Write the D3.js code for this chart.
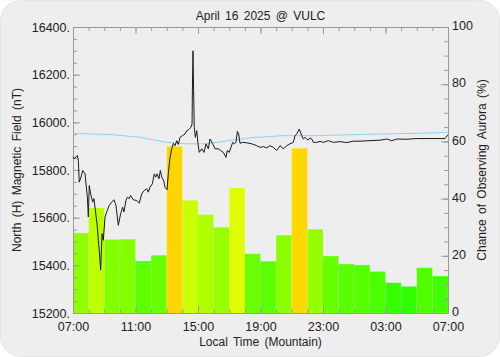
<!DOCTYPE html>
<html>
<head>
<meta charset="utf-8">
<script src="https://cdn.jsdelivr.net/npm/d3@7"></script>
<style>
  html, body { margin: 0; padding: 0; background: #ffffff; }
  svg { display: block; font-family: "Liberation Sans", Arial, sans-serif; }
</style>
</head>
<body>
<svg id="chart" width="500" height="357"></svg>
<script>
// hours since 07:00 local time
const hourTicks = [0, 4, 8, 12, 16, 20, 24];
const hourLabels = ["07:00", "11:00", "15:00", "19:00", "23:00", "03:00", "07:00"];

// hourly chance of observing aurora (%), one bar per hour starting 07:00
const auroraChance = [28.0, 36.7, 25.7, 25.8, 18.2, 20.2, 58.3, 39.4, 34.4, 30.0, 43.7, 20.7,
  18.1, 27.2, 57.6, 29.3, 19.9, 17.1, 16.8, 14.5, 10.6, 9.3, 15.8, 12.9];

// north (H) magnetic field, nT
const magHours = [0.00, 0.06, 0.28, 0.34, 0.40, 0.51, 0.62, 0.77, 0.92, 0.98, 1.04, 1.13, 1.26, 1.34,
  1.47, 1.56, 1.62, 1.68, 1.77, 1.86, 1.94, 2.05, 2.16, 2.32, 2.48, 2.62, 2.75, 2.90, 3.05, 3.18,
  3.26, 3.39, 3.48, 3.60, 3.69, 3.86, 4.08, 4.24, 4.40, 4.56, 4.72, 4.82, 4.93, 5.08, 5.20, 5.29,
  5.38, 5.50, 5.59, 5.68, 5.80, 5.89, 6.02, 6.10, 6.21, 6.32, 6.42, 6.53, 6.64, 6.74, 6.85, 7.00,
  7.17, 7.28, 7.38, 7.55, 7.62, 7.64, 7.68, 7.72, 7.76, 7.83, 7.92, 8.00, 8.08, 8.24, 8.38, 8.51,
  8.66, 8.77, 8.94, 9.09, 9.30, 9.45, 9.62, 9.79, 9.88, 10.00, 10.11, 10.22, 10.32, 10.43, 10.52,
  10.60, 10.69, 10.86, 11.12, 11.44, 11.76, 11.97, 12.18, 12.40, 12.61, 12.82, 13.04, 13.25, 13.46,
  13.68, 13.89, 14.10, 14.21, 14.32, 14.48, 14.64, 14.74, 14.85, 14.96, 15.06, 15.17, 15.28, 15.38,
  15.60, 15.81, 16.02, 16.34, 16.66, 17.09, 17.52, 17.94, 18.37, 19.01, 19.65, 20.08, 20.40, 20.72,
  21.36, 22.00, 22.64, 23.28, 23.81, 24.00];
const magField = [15856, 15847, 15861, 15840, 15749, 15770, 15798, 15784, 15686, 15603, 15735, 15700,
  15665, 15680, 15610, 15561, 15505, 15463, 15380, 15533, 15505, 15603, 15624, 15652, 15665, 15675,
  15652, 15568, 15617, 15644, 15624, 15673, 15686, 15680, 15693, 15675, 15672, 15661, 15700, 15714,
  15721, 15707, 15728, 15742, 15784, 15770, 15784, 15763, 15798, 15770, 15756, 15728, 15717, 15784,
  15853, 15889, 15912, 15902, 15923, 15907, 15937, 15944, 15951, 15965, 15968, 15979, 15993, 16132,
  16300, 16132, 15979, 15937, 15965, 15910, 15874, 15889, 15874, 15910, 15889, 15930, 15910, 15889,
  15889, 15882, 15874, 15853, 15882, 15874, 15895, 15916, 15910, 15916, 15962, 15951, 15912, 15916,
  15914, 15910, 15902, 15895, 15898, 15893, 15902, 15895, 15882, 15902, 15889, 15902, 15910, 15916,
  15944, 15951, 15972, 15944, 15930, 15937, 15930, 15926, 15935, 15930, 15916, 15916, 15920, 15916,
  15923, 15916, 15919, 15915, 15921, 15921, 15923, 15925, 15930, 15923, 15930, 15929, 15932, 15932,
  15932, 15932, 15948];

// quiet-day baseline, nT
const baseHours = [0, 2.58, 4.29, 6.0, 7.28, 8.56, 10.26, 11.33, 13.46, 15.6, 17.73, 19.86, 22.0, 24.0];
const baseField = [15954, 15948, 15937, 15916, 15910, 15910, 15926, 15935, 15944, 15944, 15948, 15951, 15954, 15958];

const margins = { left: 73, right: 52, top: 27, bottom: 44 };
const svgElement = document.getElementById("chart");
const svg = d3.select(svgElement);
const width = 500 - margins.left - margins.right;
const height = 357 - margins.top - margins.bottom;
const axisColor = "#9a9a9a";
const textColor = "#222222";

// rounded grey panel
svg.append("rect")
  .attr("x", 0.5).attr("y", 0.5)
  .attr("width", 499).attr("height", 356)
  .attr("rx", 20).attr("ry", 20)
  .attr("fill", "#eeeeee")
  .attr("stroke", "#e6e6e6");

const g = svg.append("g").attr("transform", `translate(${margins.left}, ${margins.top})`);

const x = d3.scaleLinear().domain([0, 24]).range([0, width]);
const y = d3.scaleLinear().domain([15200, 16400]).range([height, 0]);
const yPct = d3.scaleLinear().domain([0, 100]).range([height, 0]);
const hue = d3.scaleLinear().domain([0, 100]).range([120, 0]);

// aurora bars
g.append("g")
  .selectAll("rect")
  .data(auroraChance)
  .join("rect")
  .attr("x", (d, i) => x(i))
  .attr("width", x(1) - x(0))
  .attr("y", (d) => yPct(d))
  .attr("height", (d) => height - yPct(d))
  .attr("fill", (d) => d3.hsl(hue(d), 1, 0.5).formatHex())
  .attr("stroke", "rgba(255,255,255,0.18)")
  .attr("stroke-width", 0.6);

// axes: minor ticks first, then major with labels
const styleAxis = (sel) => {
  sel.selectAll("path").attr("stroke", axisColor);
  sel.selectAll("line").attr("stroke", axisColor);
  sel.selectAll("text")
    .attr("fill", textColor)
    .attr("font-size", 12.5)
    .attr("font-family", "Liberation Sans, Arial, sans-serif");
};

const minorHours = d3.range(0, 25, 1);
g.append("g").attr("transform", `translate(0, ${height})`)
  .call(d3.axisBottom(x).tickValues(minorHours).tickSize(-4).tickSizeOuter(0).tickFormat(""))
  .call(styleAxis);
g.append("g").attr("transform", `translate(0, ${height})`)
  .call(d3.axisBottom(x).tickValues(hourTicks).tickSize(-7).tickSizeOuter(0).tickPadding(9)
    .tickFormat((d, i) => hourLabels[i]))
  .call(styleAxis);
g.append("g")
  .call(d3.axisTop(x).tickValues(minorHours).tickSize(-4).tickSizeOuter(0).tickFormat(""))
  .call(styleAxis);
g.append("g")
  .call(d3.axisTop(x).tickValues(hourTicks).tickSize(-7).tickSizeOuter(0).tickFormat(""))
  .call(styleAxis);

g.append("g")
  .call(d3.axisLeft(y).tickValues(d3.range(15200, 16401, 50)).tickSize(-4).tickSizeOuter(0).tickFormat(""))
  .call(styleAxis);
g.append("g")
  .call(d3.axisLeft(y).tickValues(d3.range(15200, 16401, 200)).tickSize(-7).tickSizeOuter(0).tickPadding(3)
    .tickFormat((d) => d + "."))
  .call(styleAxis);

g.append("g").attr("transform", `translate(${width}, 0)`)
  .call(d3.axisRight(yPct).tickValues(d3.range(0, 101, 5)).tickSize(-4).tickSizeOuter(0).tickFormat(""))
  .call(styleAxis);
g.append("g").attr("transform", `translate(${width}, 0)`)
  .call(d3.axisRight(yPct).tickValues(d3.range(0, 101, 20)).tickSize(-7).tickSizeOuter(0).tickPadding(4))
  .call(styleAxis)
  .call((sel) => sel.selectAll("text").attr("dy", "0.22em"));

// baseline and magnetometer lines
const line = d3.line()
  .x((d) => x(d[0]))
  .y((d) => y(d[1]));

g.append("path")
  .datum(baseHours.map((h, i) => [h, baseField[i]]))
  .attr("fill", "none")
  .attr("stroke", "#8fd3ee")
  .attr("stroke-width", 1)
  .attr("d", line);

g.append("path")
  .datum(magHours.map((h, i) => [h, magField[i]]))
  .attr("fill", "none")
  .attr("stroke", "#1a1a1a")
  .attr("stroke-width", 1)
  .attr("stroke-linejoin", "round")
  .attr("d", line);

// titles
svg.append("text")
  .attr("x", margins.left + width / 2).attr("y", 20)
  .attr("text-anchor", "middle")
  .attr("font-size", 12).attr("word-spacing", 2)
  .attr("fill", textColor)
  .text("April 16 2025 @ VULC");

svg.append("text")
  .attr("x", margins.left + width / 2).attr("y", 346)
  .attr("text-anchor", "middle")
  .attr("font-size", 12).attr("word-spacing", 2)
  .attr("fill", textColor)
  .text("Local Time (Mountain)");

svg.append("text")
  .attr("transform", `translate(21, ${margins.top + height / 2}) rotate(-90)`)
  .attr("text-anchor", "middle")
  .attr("font-size", 12).attr("word-spacing", 2)
  .attr("fill", textColor)
  .text("North (H) Magnetic Field (nT)");

svg.append("text")
  .attr("transform", `translate(486, ${margins.top + height / 2}) rotate(-90)`)
  .attr("text-anchor", "middle")
  .attr("font-size", 12).attr("word-spacing", 2)
  .attr("fill", textColor)
  .text("Chance of Observing Aurora (%)");
</script>
</body>
</html>
